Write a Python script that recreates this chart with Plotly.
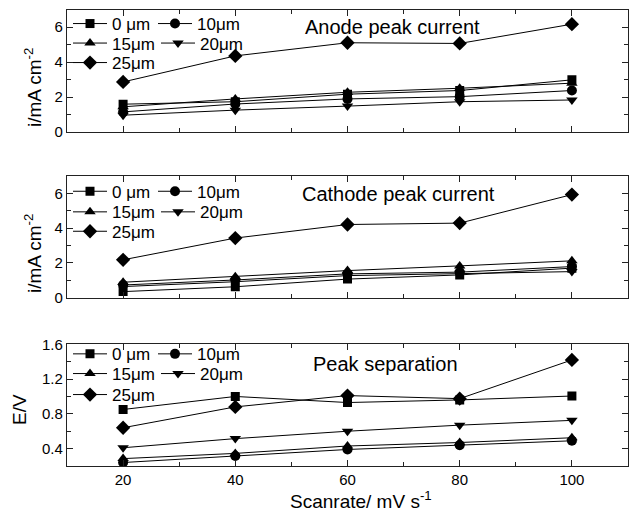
import plotly.graph_objects as go

scanrate = [20, 40, 60, 80, 100]
series_names = ["0 μm", "10μm", "15μm", "20μm", "25μm"]
symbols = ["square", "circle", "triangle-up", "triangle-down", "diamond"]
msizes = [9, 10, 10, 10, 11]

anode = {
    "0 μm": [1.59, 1.73, 2.16, 2.37, 2.98],
    "10μm": [1.15, 1.60, 1.89, 2.02, 2.37],
    "15μm": [1.44, 1.89, 2.27, 2.50, 2.79],
    "20μm": [0.96, 1.25, 1.48, 1.73, 1.83],
    "25μm": [2.86, 4.35, 5.10, 5.06, 6.16],
}
cathode = {
    "0 μm": [0.35, 0.63, 1.07, 1.31, 1.70],
    "10μm": [0.73, 1.02, 1.37, 1.47, 1.79],
    "15μm": [0.89, 1.21, 1.56, 1.83, 2.12],
    "20μm": [0.64, 0.92, 1.27, 1.40, 1.50],
    "25μm": [2.18, 3.43, 4.21, 4.29, 5.93],
}
separation = {
    "0 μm": [0.85, 1.00, 0.93, 0.96, 1.005],
    "10μm": [0.24, 0.315, 0.39, 0.44, 0.49],
    "15μm": [0.285, 0.345, 0.43, 0.47, 0.525],
    "20μm": [0.41, 0.515, 0.60, 0.67, 0.725],
    "25μm": [0.64, 0.88, 1.01, 0.975, 1.42],
}
panel_titles = ["Anode peak current", "Cathode peak current", "Peak separation"]

W, H = 630, 517
ML, MR, MT, MB = 67, 2, 9, 51
PW, PH = W - ML - MR, H - MT - MB
FONT = "Arial, Liberation Sans, Helvetica, sans-serif"


def px_x(x):
    return (x - ML) / PW


def px_y(y):
    return (H - MB - y) / PH


# panel pixel extents (top, bottom)
panels_px = [(9.5, 132.0), (176.0, 297.7), (344.3, 466.0)]
domains = [[px_y(b), px_y(t)] for (t, b) in panels_px]

# legend placement: (row, column) of each series inside a panel
legend_cell = [(0, 0), (0, 1), (1, 0), (1, 1), (2, 0)]
legend_rows_px = [[24, 43.5, 63], [191.7, 212.3, 231.7], [354.3, 374, 395]]
legend_cols_px = [[68, 153], [68, 156], [68, 153]]  # per row

fig = go.Figure()
datasets = [anode, cathode, separation]

legends = {}
for p, data in enumerate(datasets):
    xa = "x" if p == 0 else f"x{p+1}"
    ya = "y" if p == 0 else f"y{p+1}"
    for i, name in enumerate(series_names):
        lnum = p * 5 + i + 1
        lname = "legend" if lnum == 1 else f"legend{lnum}"
        r, c = legend_cell[i]
        legends[lname] = dict(
            orientation="h", x=px_x(legend_cols_px[r][c]), y=px_y(legend_rows_px[p][r]),
            xanchor="left", yanchor="middle", xref="paper", yref="paper",
            bgcolor="rgba(0,0,0,0)", borderwidth=0, itemwidth=34,
            font=dict(family=FONT, size=17, color="black"),
        )
        fig.add_trace(go.Scatter(
            x=scanrate, y=data[name], name=name, mode="lines+markers",
            xaxis=xa, yaxis=ya, legend=lname,
            line=dict(color="black", width=1),
            marker=dict(symbol=symbols[i], size=msizes[i], color="black"),
        ))

axis_common = dict(
    showgrid=False, zeroline=False, showline=True, linecolor="#222", linewidth=1.3,
    mirror="allticks", ticks="inside", ticklen=6, tickwidth=1, tickcolor="#222",
    tickfont=dict(family=FONT, size=15, color="black"), automargin=False,
)

layout = dict(
    width=W, height=H, margin=dict(l=ML, r=MR, t=MT, b=MB, autoexpand=False),
    paper_bgcolor="white", plot_bgcolor="white",
    font=dict(family=FONT, color="black"),
    showlegend=True,
)
layout.update(legends)

y_ranges = [[0, 7], [0, 7], [0.2, 1.6]]
y_dticks = [(2, 1), (2, 1), (0.4, 0.2)]
for p in range(3):
    xk = "xaxis" if p == 0 else f"xaxis{p+1}"
    yk = "yaxis" if p == 0 else f"yaxis{p+1}"
    ya = "y" if p == 0 else f"y{p+1}"
    xa = "x" if p == 0 else f"x{p+1}"
    layout[xk] = dict(axis_common, range=[10, 110], anchor=ya, domain=[0, 1],
                      tick0=0, dtick=20, showticklabels=(p == 2),
                      minor=dict(dtick=10, tick0=0, ticks="inside", ticklen=4, tickcolor="#222"))
    layout[yk] = dict(axis_common, range=y_ranges[p], anchor=xa, domain=domains[p],
                      tick0=0, dtick=y_dticks[p][0],
                      minor=dict(dtick=y_dticks[p][1], tick0=0, ticks="inside", ticklen=4, tickcolor="#222"))

annotations = []
title_pos = [(303, 27), (300, 194), (310.7, 364)]
for p in range(3):
    annotations.append(dict(
        text=panel_titles[p], x=px_x(title_pos[p][0]), y=px_y(title_pos[p][1]),
        xref="paper", yref="paper", xanchor="left", yanchor="middle",
        showarrow=False, font=dict(family=FONT, size=20, color="black")))

ytitles = [("i/mA cm<sup>-2</sup>", 33, 88), ("i/mA cm<sup>-2</sup>", 33, 254), ("E/V", 19, 410)]
for t, x, y in ytitles:
    annotations.append(dict(
        text=t, x=px_x(x), y=px_y(y), xref="paper", yref="paper",
        xanchor="center", yanchor="middle", textangle=-90, showarrow=False,
        font=dict(family=FONT, size=19, color="black")))

annotations.append(dict(
    text="Scanrate/ mV s<sup>-1</sup>", x=px_x(361), y=px_y(500), xref="paper", yref="paper",
    xanchor="center", yanchor="middle", showarrow=False,
    font=dict(family=FONT, size=19, color="black")))

layout["annotations"] = annotations
fig.update_layout(**layout)
fig.write_html(
    "out.html",
    config={"displayModeBar": False},
    post_script="document.body.style.margin='0';document.body.style.overflow='hidden';",
)
